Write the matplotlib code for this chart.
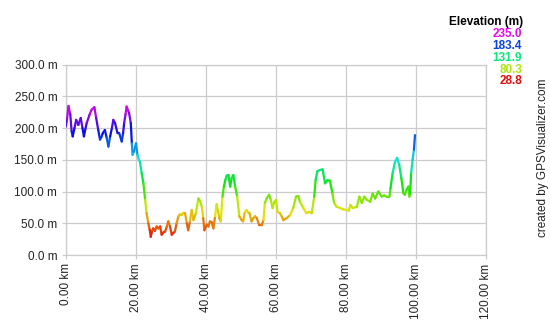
import numpy as np
import matplotlib
matplotlib.use("Agg")
import matplotlib.pyplot as plt
from matplotlib.collections import LineCollection
from matplotlib.colors import hsv_to_rgb

plt.rcParams['font.family'] = ['Liberation Sans', 'DejaVu Sans']

# distance along track (km) and elevation (m)
dist_km = [0.0, 0.4, 0.8, 1.3, 1.7, 2.0, 2.5, 3.0, 3.6, 4.3, 4.8, 5.2, 5.6, 6.0, 6.8,
           7.4, 8.2, 8.7, 9.3, 9.8, 10.2, 10.6, 11.2, 11.7, 12.2, 12.7, 13.2, 13.6,
           14.1, 14.8, 15.3, 16.0, 16.4, 16.7, 17.1, 17.4, 17.8, 18.1, 18.6, 18.9,
           19.1, 19.5, 20.1, 20.5, 20.8, 21.2, 21.7, 22.2, 22.7, 23.1, 23.6, 24.0,
           24.3, 24.7, 25.0, 25.5, 26.0, 26.5, 27.0, 27.4, 28.0, 28.4, 28.9, 29.3,
           29.8, 30.3, 30.8, 31.2, 31.7, 32.2, 32.6, 33.1, 33.6, 34.1, 34.6, 35.0,
           35.5, 36.0, 36.5, 37.2, 37.9, 38.4, 38.9, 39.3, 39.6, 40.3, 40.8, 41.2,
           41.7, 42.2, 42.7, 43.1, 43.5, 43.9, 44.3, 44.8, 45.2, 45.6, 46.0, 46.5,
           47.0, 47.4, 47.9, 48.4, 49.0, 49.6, 50.3, 50.7, 51.2, 51.7, 52.1, 52.5,
           53.1, 53.6, 54.1, 54.6, 55.3, 56.0, 56.5, 56.9, 57.4, 58.1, 58.6, 59.1,
           59.5, 60.1, 60.5, 61.2, 61.8, 62.2, 63.1, 64.1, 65.0, 65.8, 66.5, 66.9,
           67.9, 68.7, 69.6, 70.3, 71.0, 71.4, 71.9, 72.6, 73.4, 74.1, 74.8, 75.5,
           76.2, 76.7, 77.4, 78.4, 79.3, 80.3, 80.9, 81.3, 82.0, 83.2, 83.9, 84.6,
           85.3, 86.0, 87.0, 87.7, 88.4, 89.3, 90.3, 91.0, 91.7, 92.5, 92.8, 93.4,
           94.1, 94.7, 95.3, 95.9, 96.5, 96.9, 97.4, 97.9, 98.2, 98.4, 98.7, 99.1,
           99.5, 99.8]
elev_m = [202, 215, 235, 222, 195, 187, 200, 213, 205, 216, 200, 187, 198, 208, 221,
          229, 233, 216, 197, 182, 186, 192, 197, 185, 171, 187, 200, 213,
          208, 192, 192, 179, 192, 208, 222, 234, 228, 224, 208, 176,
          158, 163, 176, 158, 152, 147, 129, 113, 87, 66, 50, 40,
          28.8, 38, 42, 38, 45, 42, 45, 32, 36, 37, 45, 53,
          45, 32, 35, 37, 50, 61, 64, 63, 66, 66, 50, 39,
          53, 71, 55, 66, 89, 85, 76, 58, 39, 48, 45, 53,
          52, 42, 61, 80, 70, 58, 53, 92, 108, 118, 125, 126,
          108, 121, 126, 108, 92, 61, 55, 53, 68, 71, 67, 66,
          53, 58, 61, 58, 47, 47, 55, 82, 89, 95, 87, 74,
          82, 87, 68, 66, 60, 55, 58, 63, 74, 92, 93, 84,
          74, 66, 68, 66, 92, 118, 132, 134, 135, 113, 118, 117,
          97, 82, 76, 74, 72, 71, 70, 79, 74, 76, 92, 82,
          92, 87, 84, 97, 89, 100, 92, 94, 92, 92, 105, 129,
          147, 153, 142, 121, 97, 95, 103, 108, 92, 97, 129, 150,
          166, 189]

legend_values = [235.0, 183.4, 131.9, 80.3, 28.8]
x_ticks = [0, 20, 40, 60, 80, 100, 120]
y_ticks = [0, 50, 100, 150, 200, 250, 300]

e_min, e_max = 28.8, 235.0


def elev_color(e):
    # red at the lowest, through yellow/green/blue to magenta at the highest
    f = min(max((e - e_min) / (e_max - e_min), 0), 1)
    return hsv_to_rgb([f * 300 / 360, 0.95, 0.9])


fig = plt.figure(figsize=(5.5, 3.2), dpi=100)
ax = fig.add_axes([65.7 / 550, 65 / 320, 420 / 550, 190.3 / 320])

x = np.array(dist_km)
y = np.array(elev_m)
pts = np.column_stack([x, y]).reshape(-1, 1, 2)
segs = np.concatenate([pts[:-1], pts[1:]], axis=1)
cols = [elev_color((a + b) / 2) for a, b in zip(y[:-1], y[1:])]
lc = LineCollection(segs, colors=cols, linewidths=1.6, capstyle='round', zorder=3)
ax.add_collection(lc)

ax.set_xlim(0, 120)
ax.set_ylim(0, 300)
ax.set_xticks(x_ticks)
ax.set_yticks(y_ticks)
ax.set_xticklabels([f'{v:.2f} km' for v in x_ticks], rotation=90, fontsize=8.5)
ax.set_yticklabels([f'{v:.1f} m' for v in y_ticks], fontsize=8.5)
ax.grid(True, color='#cccccc', linewidth=0.9)
ax.set_axisbelow(True)
for s in ax.spines.values():
    s.set_color('#cccccc')
    s.set_linewidth(0.9)
ax.tick_params(colors='#cccccc', labelcolor='#222222', length=3, width=0.9, pad=3)

# colour key
fig.text(523 / 550, 1 - 21.7 / 320, 'Elevation (m)', ha='right', va='center',
         fontsize=8.5, fontweight='bold')
for i, v in enumerate(legend_values):
    fig.text(522 / 550, 1 - (34.3 + 11.8 * i) / 320, f'{v:.1f}', ha='right', va='center',
             fontsize=8.5, fontweight='bold', color=elev_color(v))

fig.text(543 / 550, 1 - 158 / 320, 'created by GPSVisualizer.com', rotation=90,
         ha='center', va='center', fontsize=8.5, color='#222222')

fig.savefig('out.png', dpi=100)
